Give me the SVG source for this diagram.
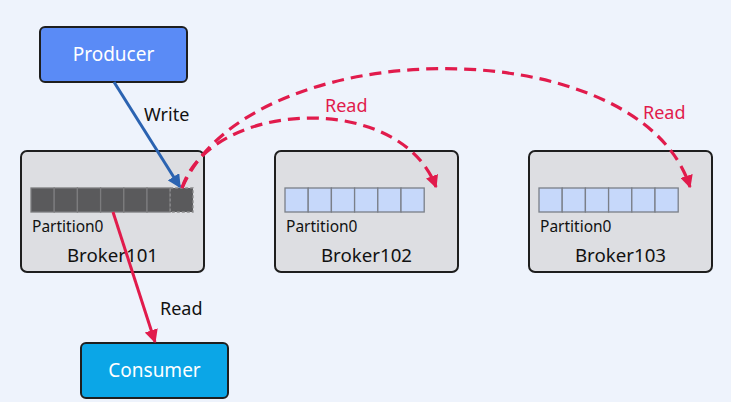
<svg xmlns="http://www.w3.org/2000/svg" width="731" height="402" viewBox="0 0 731 402">
<defs>
<style>
.broker{fill:#dddee2;stroke:#1e1e1e;stroke-width:2}
.cell{fill:#c6d8fa;stroke:#7a7f88;stroke-width:1.3}
.dcell{fill:#5a5a5c;stroke:#7c7c7e;stroke-width:1.3}
.t{font-family:"Noto Sans","Open Sans",sans-serif;fill:#111}
.red{fill:none;stroke:#e11b4c;stroke-width:3.2;stroke-dasharray:12 7}
</style>
<marker id="ar" viewBox="0 0 10 10" refX="9" refY="5" markerWidth="4" markerHeight="4" orient="auto" markerUnits="strokeWidth"><path d="M0,0 L10,5 L0,10 z" fill="#e11b4c"/></marker>
<marker id="ab" viewBox="0 0 10 10" refX="9" refY="5" markerWidth="4.5" markerHeight="4.5" orient="auto" markerUnits="strokeWidth"><path d="M0,0 L10,5 L0,10 z" fill="#2b63b1"/></marker>
<marker id="ar2" viewBox="0 0 10 10" refX="9" refY="5" markerWidth="4.5" markerHeight="4.5" orient="auto" markerUnits="strokeWidth"><path d="M0,0 L10,5 L0,10 z" fill="#e11b4c"/></marker>
</defs>
<rect width="731" height="402" fill="#eef3fc"/>

<g id="producer">
<rect x="40" y="27" width="147" height="55" rx="5" fill="#5a8bf6" stroke="#1e1e1e" stroke-width="2"/>
<text x="113.5" y="61" text-anchor="middle" font-family="Noto Sans, Open Sans, sans-serif" font-size="19" fill="#fff">Producer</text>
</g>

<g id="broker101">
<rect class="broker" x="21" y="151" width="183" height="121" rx="6"/>
<rect class="dcell" x="31" y="188" width="23.2" height="24"/>
<rect class="dcell" x="54.2" y="188" width="23.2" height="24"/>
<rect class="dcell" x="77.4" y="188" width="23.2" height="24"/>
<rect class="dcell" x="100.6" y="188" width="23.2" height="24"/>
<rect class="dcell" x="123.8" y="188" width="23.2" height="24"/>
<rect class="dcell" x="147" y="188" width="23.2" height="24"/>
<rect x="170.2" y="188" width="22.8" height="24" fill="#5a5a5c" stroke="#8a8a8c" stroke-width="1.3" stroke-dasharray="3 2"/>
<text class="t" x="32" y="232" font-size="15.5">Partition0</text>
<text class="t" x="112.5" y="262" font-size="18.7" text-anchor="middle">Broker101</text>
</g>

<g id="broker102">
<rect class="broker" x="275" y="151" width="183" height="121" rx="6"/>
<rect class="cell" x="285" y="188" width="23.2" height="24"/>
<rect class="cell" x="308.2" y="188" width="23.2" height="24"/>
<rect class="cell" x="331.4" y="188" width="23.2" height="24"/>
<rect class="cell" x="354.6" y="188" width="23.2" height="24"/>
<rect class="cell" x="377.8" y="188" width="23.2" height="24"/>
<rect class="cell" x="401" y="188" width="23.2" height="24"/>
<text class="t" x="286" y="232" font-size="15.5">Partition0</text>
<text class="t" x="366.5" y="262" font-size="18.7" text-anchor="middle">Broker102</text>
</g>

<g id="broker103">
<rect class="broker" x="529" y="151" width="183" height="121" rx="6"/>
<rect class="cell" x="539" y="188" width="23.2" height="24"/>
<rect class="cell" x="562.2" y="188" width="23.2" height="24"/>
<rect class="cell" x="585.4" y="188" width="23.2" height="24"/>
<rect class="cell" x="608.6" y="188" width="23.2" height="24"/>
<rect class="cell" x="631.8" y="188" width="23.2" height="24"/>
<rect class="cell" x="655" y="188" width="23.2" height="24"/>
<text class="t" x="540" y="232" font-size="15.5">Partition0</text>
<text class="t" x="620.5" y="262" font-size="18.7" text-anchor="middle">Broker103</text>
</g>

<g id="consumer">
<rect x="81" y="343" width="147" height="55" rx="5" fill="#0ba6e7" stroke="#1e1e1e" stroke-width="2"/>
<text x="154.5" y="377" text-anchor="middle" font-family="Noto Sans, Open Sans, sans-serif" font-size="19" fill="#fff">Consumer</text>
</g>

<g id="connectors">
<line x1="114" y1="82" x2="180" y2="187" stroke="#2b63b1" stroke-width="3" marker-end="url(#ab)"/>
<text class="t" x="144" y="121" font-size="18">Write</text>
<line x1="113" y1="212" x2="155" y2="342" stroke="#e11b4c" stroke-width="3" marker-end="url(#ar2)"/>
<text class="t" x="160" y="315" font-size="18">Read</text>
<path class="red" d="M182,188 C210,100 400,90 436,187" marker-end="url(#ar)"/>
<text x="325" y="112" font-family="Noto Sans, Open Sans, sans-serif" font-size="18" fill="#e11b4c">Read</text>
<path class="red" d="M182,188 C250,30 640,28 690,187" marker-end="url(#ar)"/>
<text x="643" y="119" font-family="Noto Sans, Open Sans, sans-serif" font-size="18" fill="#e11b4c">Read</text>
</g>
</svg>
